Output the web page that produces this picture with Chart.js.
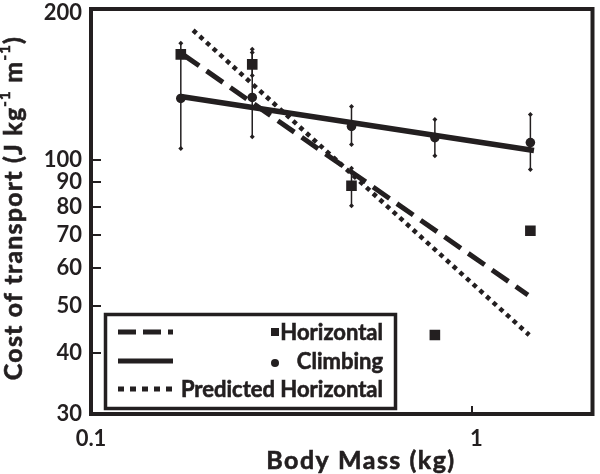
<!DOCTYPE html>
<html>
<head>
<meta charset="utf-8">
<script src="https://cdn.jsdelivr.net/npm/chart.js@4.4.1/dist/chart.umd.min.js"></script>
<style>
  body { margin: 0; background: #fff; }
  canvas { display: block; }
</style>
</head>
<body>
<canvas id="cotChart" width="600" height="474"></canvas>
<script>
// Body mass (kg) for the five groups
const mass = [0.171, 0.262, 0.474, 0.78, 1.38];

// Measured cost of transport (J kg-1 m-1)
const horizontal = [164.6, 157, 88.4, 43.6, 71.4];
const climbing = [133.6, 134.2, 117, 111, 108.4];

// Error bar ends
const climbHigh = [173.5, 168.6, 128.6, 120.9, 123.8];
const climbLow = [105.4, 111.5, 107.4, 101.9, 95.4];
const horizHigh = [null, 166, 96, null, null];
const horizLow = [null, 149, 80.4, null, null];

// Fitted lines (end points)
const climbFitX = [0.171, 1.41];
const climbFitY = [134.8, 104.4];
const horizFitX = [0.173, 1.36];
const horizFitY = [164.6, 52.7];
const predFitX = [0.184, 1.37];
const predFitY = [184.5, 43.6];

// Axis ticks
const xTicks = [0.1, 1];
const yTicks = [30, 40, 50, 60, 70, 80, 90, 100, 200];

const ink = "#231f20";
const fontFamily = "Lato, 'Open Sans', sans-serif";

function pts(xs, ys) {
    return xs.map((x, i) => ({ x: x, y: ys[i] })).filter(p => p.y !== null);
}

function diamond(ctx, x, y, r) {
    ctx.beginPath();
    ctx.moveTo(x, y - r);
    ctx.lineTo(x + r, y);
    ctx.lineTo(x, y + r);
    ctx.lineTo(x - r, y);
    ctx.closePath();
    ctx.fill();
}

// slightly heavier text, closer to the original bold face
function boldText(ctx, t, x, y) {
    ctx.fillText(t, x, y);
    ctx.lineWidth = 0.6;
    ctx.strokeText(t, x, y);
}

// error bars, drawn under the markers
const errorBars = {
    id: "errorBars",
    beforeDatasetsDraw(chart) {
        const ctx = chart.ctx;
        const xs = chart.scales.x, ys = chart.scales.y;
        ctx.save();
        ctx.strokeStyle = ink;
        ctx.fillStyle = ink;
        ctx.lineWidth = 1.5;
        const bars = [[climbHigh, climbLow], [horizHigh, horizLow]];
        bars.forEach(([hi, lo]) => {
            mass.forEach((m, i) => {
                if (hi[i] === null) return;
                const x = xs.getPixelForValue(m);
                const y1 = ys.getPixelForValue(hi[i]);
                const y2 = ys.getPixelForValue(lo[i]);
                ctx.beginPath();
                ctx.moveTo(x, y1);
                ctx.lineTo(x, y2);
                ctx.stroke();
                diamond(ctx, x, y1, 2.5);
                diamond(ctx, x, y2, 2.5);
            });
        });
        ctx.restore();
    }
};

// frame, inner ticks, titles and the boxed legend
const decorations = {
    id: "decorations",
    afterDraw(chart) {
        const ctx = chart.ctx;
        const a = chart.chartArea;
        const xs = chart.scales.x, ys = chart.scales.y;
        ctx.save();
        ctx.strokeStyle = ink;
        ctx.fillStyle = ink;

        // inner tick marks
        ctx.lineWidth = 2;
        yTicks.forEach(v => {
            if (v === yTicks[0] || v === yTicks[yTicks.length - 1]) return;
            const y = Math.round(ys.getPixelForValue(v));
            ctx.beginPath();
            ctx.moveTo(a.left, y);
            ctx.lineTo(a.left + 10, y);
            ctx.stroke();
        });
        const x1 = Math.round(xs.getPixelForValue(1)) - 4;
        ctx.beginPath();
        ctx.moveTo(x1, a.bottom);
        ctx.lineTo(x1, a.bottom - 8);
        ctx.stroke();

        // plot frame
        ctx.lineWidth = 4;
        ctx.strokeRect(a.left, a.top, a.right - a.left, a.bottom - a.top);

        // x title
        ctx.font = "bold 25px " + fontFamily;
        ctx.letterSpacing = "1.5px";
        ctx.textAlign = "center";
        ctx.textBaseline = "middle";
        boldText(ctx, "Body Mass (kg)", 361, 461);

        // y title with superscripts
        const parts = [
            ["Cost of transport (J kg", false],
            ["-1", true],
            [" m", false],
            ["-1", true],
            [")", false]
        ];
        const bigFont = "bold 25px " + fontFamily;
        const supFont = "bold 15px " + fontFamily;
        ctx.letterSpacing = "1.2px";
        let total = 0;
        parts.forEach(([t, sup]) => {
            ctx.font = sup ? supFont : bigFont;
            total += ctx.measureText(t).width;
        });
        ctx.translate(14, 208);
        ctx.rotate(-Math.PI / 2);
        ctx.textAlign = "left";
        ctx.textBaseline = "middle";
        let pos = -total / 2;
        parts.forEach(([t, sup]) => {
            ctx.font = sup ? supFont : bigFont;
            boldText(ctx, t, pos, sup ? -9 : 0);
            pos += ctx.measureText(t).width;
        });
        ctx.setTransform(1, 0, 0, 1, 0, 0);
        ctx.letterSpacing = "0px";

        // legend box
        ctx.fillStyle = "#fff";
        ctx.fillRect(106, 315, 289, 93);
        ctx.fillStyle = ink;
        ctx.lineWidth = 3.5;
        ctx.strokeRect(105.5, 314.5, 290, 94);

        const rows = [
            { y: 332, label: "Horizontal", dash: [18, 7], marker: "rect" },
            { y: 361, label: "Climbing", dash: [], marker: "circle" },
            { y: 389, label: "Predicted Horizontal", dash: [6, 6], marker: null }
        ];
        ctx.font = "bold 22px " + fontFamily;
        ctx.textAlign = "right";
        ctx.textBaseline = "middle";
        rows.forEach(r => {
            ctx.lineWidth = 5;
            ctx.setLineDash(r.dash);
            ctx.beginPath();
            ctx.moveTo(118, r.y);
            ctx.lineTo(173, r.y);
            ctx.stroke();
            ctx.setLineDash([]);
            boldText(ctx, r.label, 383, r.y + 1);
            if (r.marker === "rect") {
                ctx.fillRect(271, r.y - 4, 8, 8);
            } else if (r.marker === "circle") {
                ctx.beginPath();
                ctx.arc(275, r.y + 2, 4, 0, Math.PI * 2);
                ctx.fill();
            }
        });
        ctx.restore();
    }
};

const ctx = document.getElementById("cotChart").getContext("2d");

let cotChart = new Chart(ctx, {
    type: "scatter",
    data: {
        datasets: [
            {
                label: "Horizontal",
                data: pts(mass, horizontal),
                pointStyle: "rect",
                pointRadius: 7.5,
                backgroundColor: ink,
                borderColor: ink,
                borderWidth: 0
            },
            {
                label: "Climbing",
                data: pts(mass, climbing),
                pointStyle: "circle",
                pointRadius: 4.8,
                backgroundColor: ink,
                borderColor: ink,
                borderWidth: 0
            },
            {
                label: "Climbing fit",
                data: pts(climbFitX, climbFitY),
                showLine: true,
                pointRadius: 0,
                borderColor: ink,
                borderWidth: 5.5
            },
            {
                label: "Horizontal fit",
                data: pts(horizFitX, horizFitY),
                showLine: true,
                pointRadius: 0,
                borderColor: ink,
                borderWidth: 5,
                borderDash: [20, 9]
            },
            {
                label: "Predicted Horizontal",
                data: pts(predFitX, predFitY),
                showLine: true,
                pointRadius: 0,
                borderColor: ink,
                borderWidth: 4.5,
                borderDash: [4.5, 4.5]
            }
        ]
    },
    options: {
        responsive: false,
        animation: false,
        layout: { padding: { top: 9, right: 3, left: 0, bottom: 0 } },
        plugins: {
            legend: { display: false },
            tooltip: { enabled: false }
        },
        scales: {
            x: {
                type: "logarithmic",
                min: 0.1,
                max: 2,
                afterBuildTicks: s => { s.ticks = xTicks.map(v => ({ value: v })); },
                afterFit: s => { s.height = 60; s.paddingLeft = 0; s.paddingRight = 0; },
                grid: { display: false, drawTicks: false },
                border: { display: false },
                ticks: {
                    color: ink,
                    padding: 12,
                    maxRotation: 0,
                    font: { family: fontFamily, size: 22, weight: "bold" },
                    callback: v => (v === 0.1 ? "0.1" : String(v))
                }
            },
            y: {
                type: "logarithmic",
                min: 30,
                max: 204,
                afterBuildTicks: s => { s.ticks = yTicks.map(v => ({ value: v })); },
                afterFit: s => { s.width = 91; s.paddingTop = 0; s.paddingBottom = 0; },
                grid: { display: false, drawTicks: false },
                border: { display: false },
                ticks: {
                    color: ink,
                    padding: 9,
                    font: { family: fontFamily, size: 22, weight: "bold" },
                    callback: v => String(v)
                }
            }
        }
    },
    plugins: [errorBars, decorations]
});
</script>
</body>
</html>
